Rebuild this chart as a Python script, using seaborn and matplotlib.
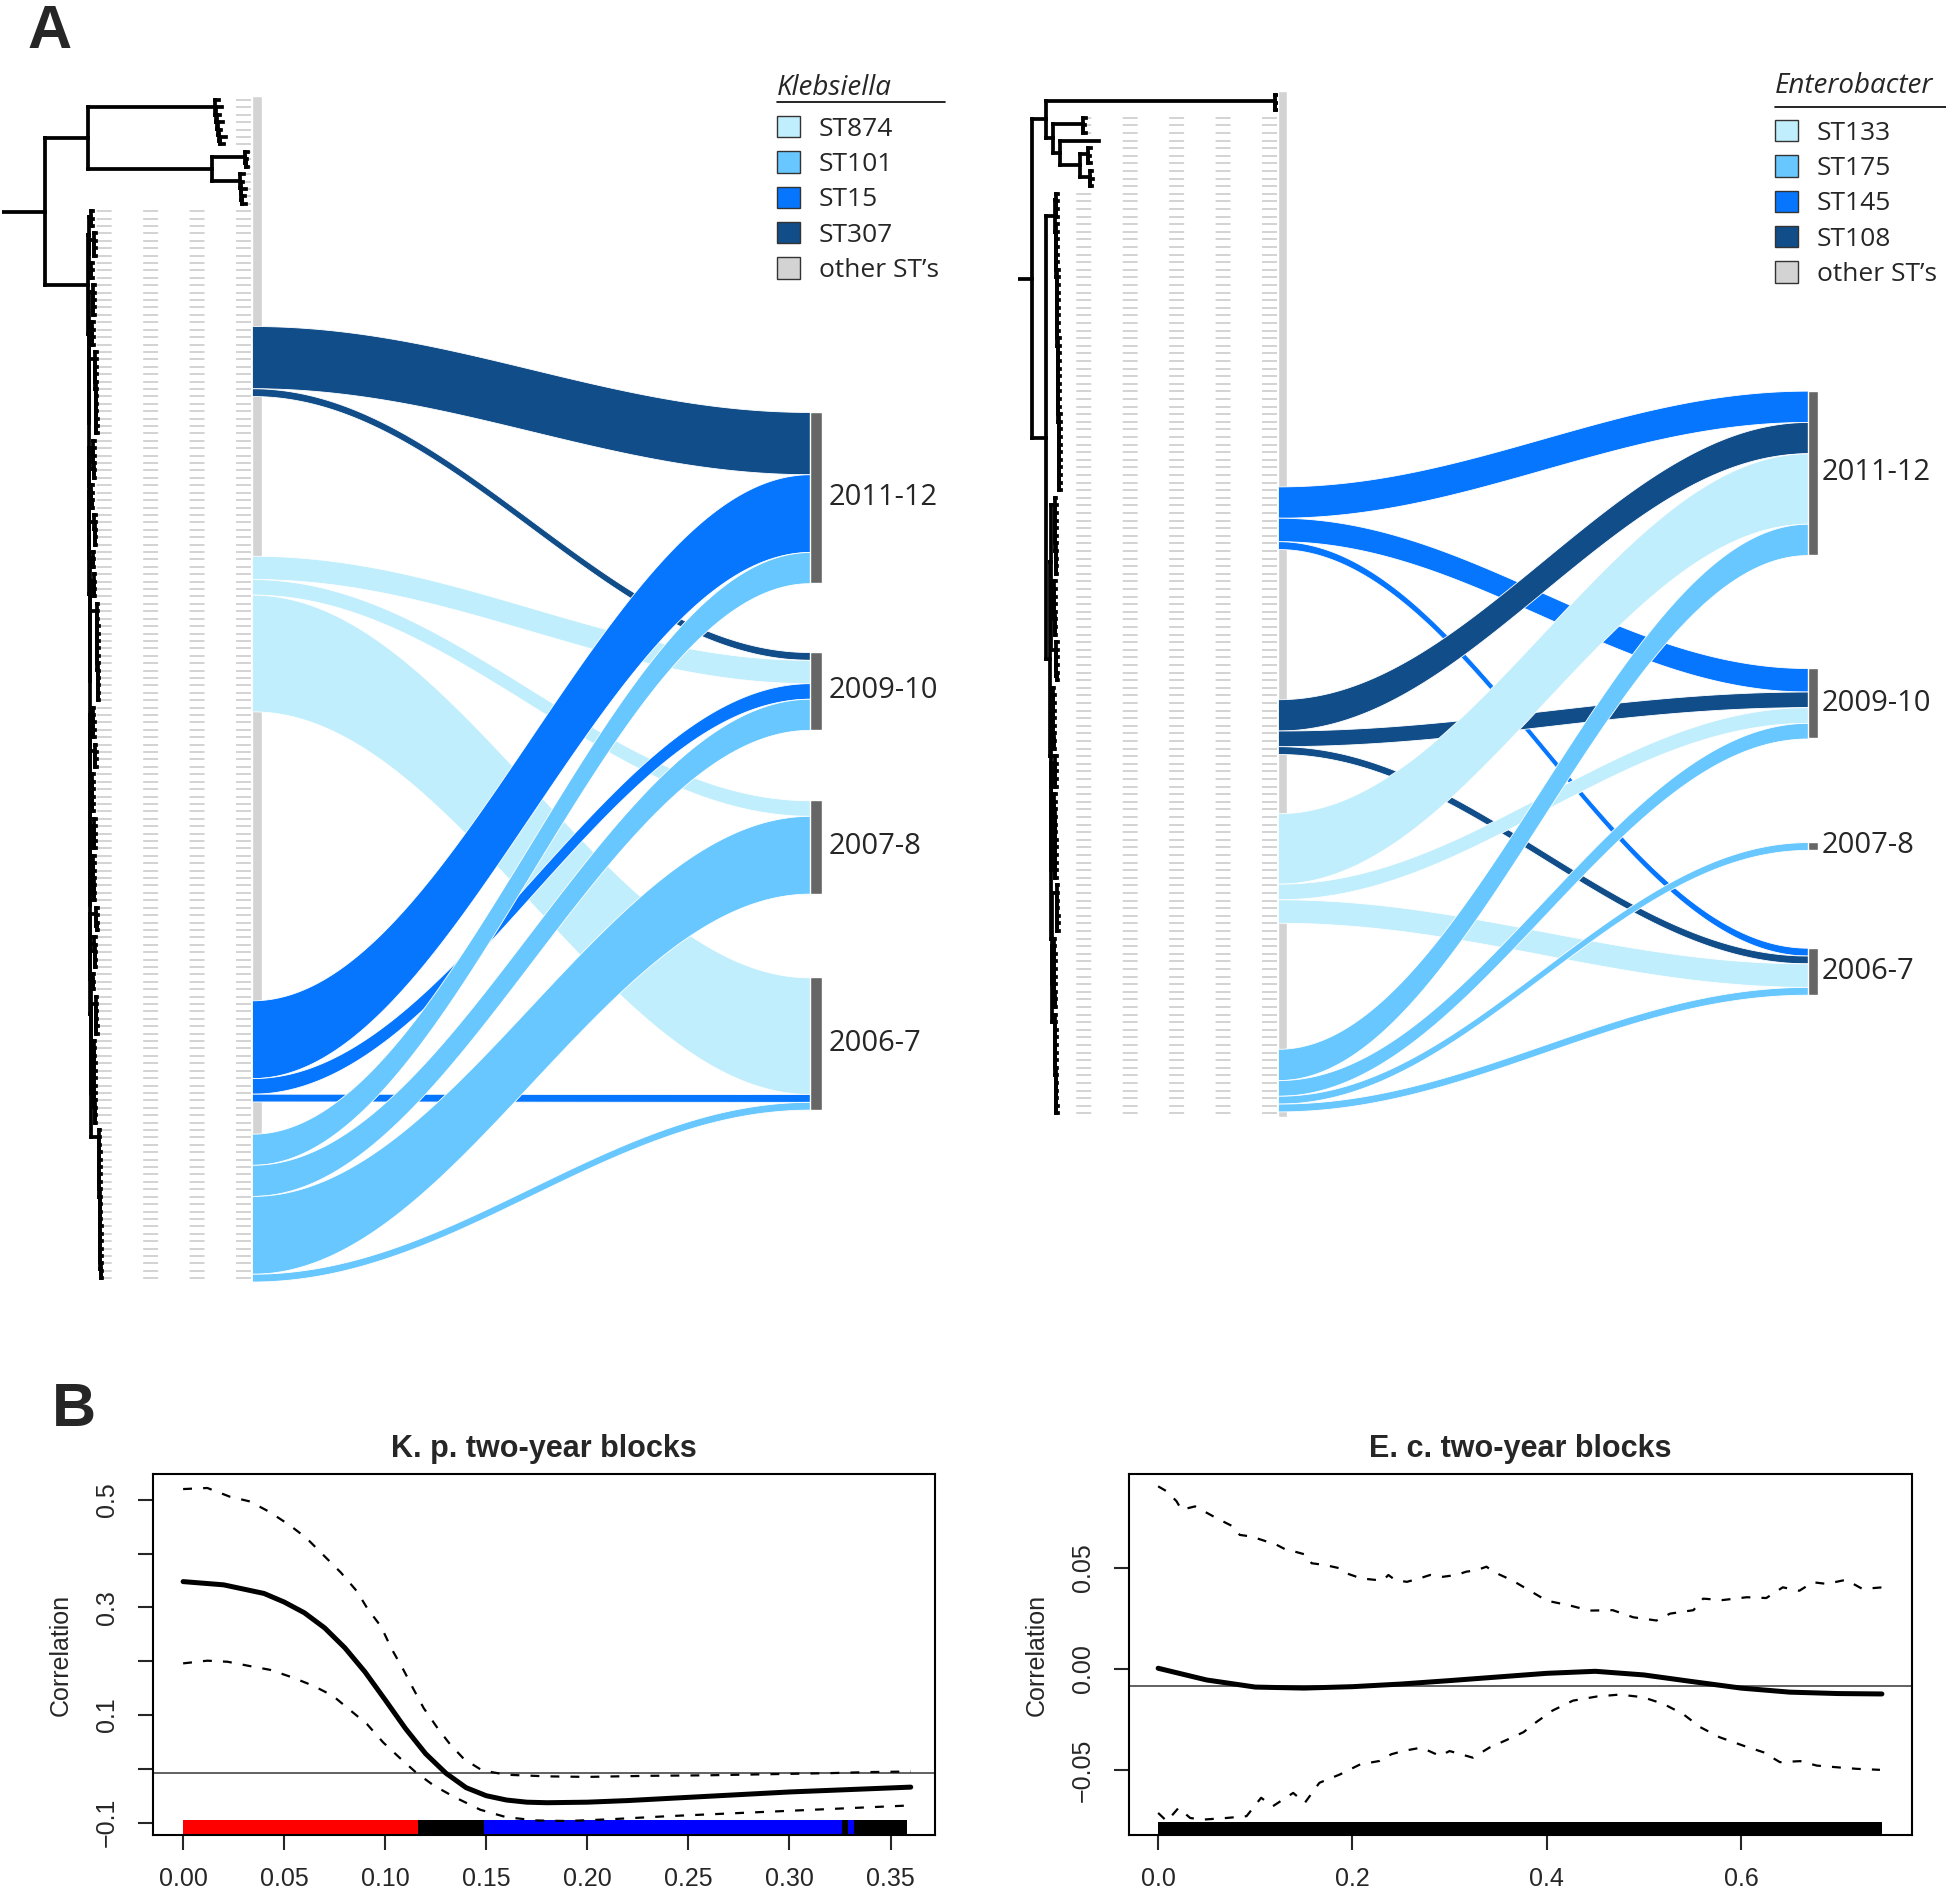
import numpy as np
import matplotlib
matplotlib.use('Agg')
import matplotlib.pyplot as plt
import seaborn as sns
from matplotlib.collections import LineCollection
from matplotlib.patches import Patch
from matplotlib.lines import Line2D

sns.set_style('white')
plt.rcParams['font.family'] = ['Liberation Sans', 'DejaVu Sans']

W, H = 1946, 1898

# =========================================
# Panel A data
# =========================================
YEARS = ['2011-12', '2009-10', '2007-8', '2006-7']
ST_COLORS = ['#c1eefc', '#68c7fe', '#0676fe', '#114d88']   # light -> dark
OTHER = '#d3d3d3'

KP_STS = ['ST874', 'ST101', 'ST15', 'ST307']          # legend order
KP_TREE_ORDER = ['ST307', 'ST874', 'ST15', 'ST101']   # order along the tree
KP_FIRST_LEAF = [31, 62, 122, 140]
KP_COUNTS = [[8, 1, 0, 0],     # isolates per period, YEARS order
             [0, 3, 2, 15],
             [10, 2, 0, 1],
             [4, 4, 10, 1]]

EC_STS = ['ST133', 'ST175', 'ST145', 'ST108']
EC_TREE_ORDER = ['ST145', 'ST108', 'ST133', 'ST175']
EC_FIRST_LEAF = [52, 80, 95, 126]
EC_COUNTS = [[4, 3, 0, 1],
             [4, 2, 0, 1],
             [9, 2, 0, 3],
             [4, 2, 1, 1]]

# tree pieces (branch lengths)
KP_CA_TIPS = [4, 6, 3, 5, 2, 6, 4]
KP_CB1_TIPS = [3, 1, 2]
KP_CB2_TIPS = [4, 2, 5, 3, 4]
KP_BIG_GROUPS = [3, 4, 3, 5, 4, 12, 6, 4, 5, 3, 4, 14, 5, 4, 6, 5, 7, 4, 5, 3, 6, 12, 21]
KP_BIG_STEMS = [2, 5, 2, 4, 3, 6, 4, 2, 5, 3, 4, 7, 3, 5, 2, 4, 3, 6, 4, 2, 5, 3, 8]

EC_T1A_TIPS = [2, 3, 2]
EC_T1B1_TIPS = [3, 2, 3]
EC_FIRST_GROUPS = [4, 36]
EC_BIG_GROUPS = [11, 8, 6, 9, 5, 12, 7, 10, 14]
EC_BIG_STEMS = [4, 3, 5, 2, 4, 3, 5, 2, 3]

# =========================================
# Panel B data
# =========================================
KP_X = [0.00, 0.02, 0.04, 0.05, 0.06, 0.07, 0.08, 0.09, 0.10, 0.11, 0.12, 0.13, 0.14,
        0.15, 0.16, 0.17, 0.18, 0.20, 0.22, 0.24, 0.26, 0.28, 0.30, 0.32, 0.34, 0.36]
KP_R = [0.348, 0.342, 0.326, 0.310, 0.290, 0.262, 0.225, 0.180, 0.128, 0.075, 0.028, -0.008,
        -0.035, -0.050, -0.058, -0.062, -0.063, -0.062, -0.059, -0.055, -0.051, -0.047,
        -0.043, -0.040, -0.037, -0.034]
KP_HI_X = [0, 0.012, 0.023, 0.033, 0.043, 0.053, 0.061, 0.070, 0.078, 0.086, 0.091, 0.098,
           0.103, 0.109, 0.114, 0.119, 0.126, 0.132, 0.139, 0.148, 0.16, 0.18, 0.20, 0.23,
           0.26, 0.29, 0.32, 0.34, 0.36]
KP_HI = [0.520, 0.522, 0.506, 0.497, 0.477, 0.452, 0.429, 0.395, 0.365, 0.330, 0.299, 0.264,
         0.224, 0.184, 0.148, 0.113, 0.075, 0.046, 0.018, -0.003, -0.011, -0.014, -0.015,
         -0.013, -0.012, -0.010, -0.008, -0.006, -0.005]
KP_LO_X = [0, 0.012, 0.022, 0.033, 0.043, 0.054, 0.064, 0.074, 0.082, 0.091, 0.099, 0.107,
           0.115, 0.124, 0.134, 0.147, 0.16, 0.175, 0.19, 0.21, 0.24, 0.27, 0.30, 0.33, 0.36]
KP_LO = [0.196, 0.201, 0.199, 0.191, 0.184, 0.170, 0.155, 0.136, 0.111, 0.083, 0.049, 0.021,
         -0.006, -0.031, -0.052, -0.076, -0.090, -0.096, -0.097, -0.094, -0.088, -0.083,
         -0.078, -0.073, -0.068]
KP_NULL = -0.007
KP_SIG_BREAKS = [0, 0.116, 0.149, 0.326, 0.329, 0.332, 0.358]
KP_SIG_COLORS = ['#ff0000', '#000000', '#0000ff', '#000000', '#0000ff', '#000000']

EC_X = [0, 0.05, 0.1, 0.15, 0.2, 0.25, 0.3, 0.35, 0.4, 0.45, 0.5, 0.55, 0.6, 0.65, 0.7, 0.745]
EC_R = [0.0003, -0.0055, -0.0090, -0.0095, -0.0088, -0.0075, -0.0058, -0.0040, -0.0022,
        -0.0012, -0.0030, -0.0063, -0.0095, -0.0115, -0.0122, -0.0124]
EC_HI_X = [0, 0.009, 0.019, 0.024, 0.038, 0.057, 0.067, 0.077, 0.084, 0.096, 0.112, 0.122,
           0.132, 0.141, 0.153, 0.158, 0.172, 0.187, 0.194, 0.209, 0.225, 0.232, 0.237, 0.244,
           0.256, 0.269, 0.280, 0.293, 0.307, 0.317, 0.328, 0.338, 0.345, 0.365, 0.40, 0.424,
           0.444, 0.468, 0.489, 0.513, 0.527, 0.551, 0.561, 0.581, 0.606, 0.626, 0.643, 0.660,
           0.674, 0.688, 0.708, 0.725, 0.746]
EC_HI = [0.0902, 0.0877, 0.0828, 0.0786, 0.0803, 0.0753, 0.0728, 0.0704, 0.0662, 0.0654,
         0.0629, 0.0613, 0.0588, 0.0579, 0.0563, 0.0522, 0.0513, 0.0497, 0.0472, 0.0447,
         0.0439, 0.0439, 0.0464, 0.0439, 0.0430, 0.0447, 0.0464, 0.0455, 0.0464, 0.0480,
         0.0488, 0.0505, 0.0480, 0.0436, 0.0337, 0.0313, 0.0288, 0.0290, 0.0255, 0.0239,
         0.0273, 0.0290, 0.0347, 0.0340, 0.0354, 0.0350, 0.0403, 0.0386, 0.0428, 0.0420,
         0.0440, 0.0395, 0.0403]
EC_LO_X = [0, 0.009, 0.021, 0.033, 0.046, 0.070, 0.091, 0.106, 0.118, 0.139, 0.151, 0.166,
           0.187, 0.208, 0.228, 0.240, 0.252, 0.271, 0.290, 0.300, 0.324, 0.341, 0.357, 0.376,
           0.389, 0.406, 0.427, 0.451, 0.475, 0.499, 0.520, 0.540, 0.558, 0.578, 0.602, 0.623,
           0.640, 0.661, 0.678, 0.698, 0.719, 0.743]
EC_LO = [-0.0712, -0.0753, -0.0687, -0.0737, -0.0745, -0.0737, -0.0728, -0.0637, -0.0679,
         -0.0613, -0.0662, -0.0563, -0.0522, -0.0472, -0.0455, -0.0422, -0.0406, -0.0389,
         -0.0430, -0.0406, -0.0439, -0.0389, -0.0355, -0.0313, -0.0264, -0.0206, -0.0157,
         -0.0137, -0.0127, -0.0140, -0.0173, -0.0222, -0.0288, -0.0338, -0.0379, -0.0412,
         -0.0461, -0.0456, -0.0478, -0.0486, -0.0494, -0.0499]
EC_NULL = -0.0086
EC_SIG_BREAKS = [0, 0.745]
EC_SIG_COLORS = ['#000000']


# =========================================
# helpers
# =========================================
def tip(l):
    return (l, [])


def clade(l, *kids):
    return (l, list(kids))


def ladder(l, kids, step):
    if len(kids) <= 2:
        return clade(l, *kids)
    return clade(l, kids[0], ladder(step, kids[1:], step))


def comb(l, tips, step):
    return ladder(l, [tip(t) for t in tips], step)


def layout(tree):
    segs, tips = [], []
    count = [0]

    def walk(node, x_parent):
        length, kids = node
        x = x_parent + length
        if kids:
            ys = [walk(k, x) for k in kids]
            y = (ys[0] + ys[-1]) / 2
            segs.append([(x, ys[0]), (x, ys[-1])])
        else:
            y = count[0]
            count[0] += 1
            tips.append((x, y))
        segs.append([(x_parent, y), (x, y)])
        return y

    walk(tree, 0.0)
    return segs, tips


def box(x0, y0, x1, y1):
    return [x0 / W, 1 - y1 / H, (x1 - x0) / W, (y1 - y0) / H]


kp_groups = [comb(s, [1.5] * n, 0.1) for n, s in zip(KP_BIG_GROUPS, KP_BIG_STEMS)]
KP_TREE = clade(43,
                clade(43,
                      comb(127, KP_CA_TIPS, 1.0),
                      clade(124, comb(33, KP_CB1_TIPS, 0.5), comb(28, KP_CB2_TIPS, 0.5))),
                clade(43, ladder(1, kp_groups[:3], 0.1), ladder(1, kp_groups[3:], 0.1)))

ec_groups = [comb(s, [1.5] * n, 0.1) for n, s in zip(EC_BIG_GROUPS, EC_BIG_STEMS)]
EC_TREE = clade(14,
                clade(14,
                      comb(229, EC_T1A_TIPS, 0.5),
                      clade(7, comb(30, EC_T1B1_TIPS, 0.5),
                            clade(7, tip(39),
                                  clade(20, comb(8, [3, 2, 3], 0.5), comb(10, [2, 3, 2], 0.5))))),
                clade(14,
                      clade(9, *[comb(1, [2] * n, 0.1) for n in EC_FIRST_GROUPS]),
                      clade(4, ladder(1, ec_groups[:3], 0.2), ladder(1, ec_groups[3:], 0.2))))

fig = plt.figure(figsize=(W / 100, H / 100), dpi=100)


def tanglegram(tree, tree_px, sank_px, y_px, leaf0_px, leaf_sp, bar_w, ybar_w,
               tree_order, legend_order, first_leaf, counts, unit, year_tops, label_x):
    segs, tips = layout(tree)
    n_leaves = len(tips)
    ylim = ((y_px[1] - leaf0_px) / leaf_sp, (y_px[0] - leaf0_px) / leaf_sp)

    # tree
    axt = fig.add_axes(box(tree_px[0], y_px[0], tree_px[1], y_px[1]))
    bar_x = tree_px[1] - tree_px[0]
    guides = [[(bar_x - 1, y), (x, y)] for x, y in tips]
    axt.add_collection(LineCollection(guides, colors='#c8c8c8', linewidths=1.1,
                                      linestyles=[(0, (9.8, 20.6))]))
    axt.add_collection(LineCollection(segs, colors='black', linewidths=2.7,
                                      capstyle='projecting'))
    axt.set_xlim(0, bar_x)
    axt.set_ylim(*ylim)
    axt.axis('off')

    # sankey
    axs = fig.add_axes(box(sank_px[0], y_px[0], sank_px[1], y_px[1]))
    axs.barh(y=(n_leaves - 1) / 2, width=bar_w, left=0, height=n_leaves, color=OTHER)
    counts = np.array(counts, dtype=float)
    year_tot = counts.sum(axis=0)
    dest_off = np.zeros(len(YEARS))
    t = np.linspace(0, 1, 120)
    s = (1 - np.cos(np.pi * t)) / 2
    for i, st in enumerate(tree_order):
        col = ST_COLORS[legend_order.index(st)]
        src = first_leaf[i] - 0.5
        for j in range(len(YEARS)):
            c = counts[i, j]
            if c == 0:
                continue
            a0, b0 = src, src + c * unit
            a1 = year_tops[j] + dest_off[j]
            b1 = a1 + c * unit
            axs.fill_between(t, a0 + (a1 - a0) * s, b0 + (b1 - b0) * s,
                             facecolor=col, edgecolor='white', linewidth=0.6)
            src = b0
            dest_off[j] += c * unit
    for j, yr in enumerate(YEARS):
        h = year_tot[j] * unit
        axs.barh(y=year_tops[j] + h / 2, width=ybar_w, left=1, height=h, color='#666666')
        axs.text(label_x, year_tops[j] + h / 2, yr, fontsize=21, family='Open Sans',
                 va='center', ha='left', clip_on=False)
    axs.set_xlim(0, 1 + ybar_w)
    axs.set_ylim(*ylim)
    axs.axis('off')


tanglegram(KP_TREE, (2, 252), (252, 822), (60, 1300), 100, 7.41, 0.018, 0.0215,
           KP_TREE_ORDER, KP_STS, KP_FIRST_LEAF, KP_COUNTS, 1.05,
           [42.1, 74.5, 94.5, 118.4], 1.034)
tanglegram(EC_TREE, (1018, 1278), (1278, 1818), (60, 1130), 95, 7.6, 0.017, 0.0189,
           EC_TREE_ORDER, EC_STS, EC_FIRST_LEAF, EC_COUNTS, 1.03,
           [38.9, 75.4, 98.3, 112.2], 1.026)


def st_legend(sts, title, x_px, top_px, title_base_px, line_y_px, line_end_px):
    handles = [Patch(facecolor=c, edgecolor='#333333', linewidth=1) for c in ST_COLORS]
    handles.append(Patch(facecolor=OTHER, edgecolor='#333333', linewidth=1))
    fig.legend(handles, sts + ['other ST\u2019s'], loc='upper left',
               bbox_to_anchor=(x_px / W, 1 - top_px / H), frameon=False,
               prop={'family': 'Open Sans', 'size': 19}, handlelength=0.87,
               handleheight=0.87, handletextpad=0.72, labelspacing=0.36,
               borderpad=0, borderaxespad=0)
    fig.text(x_px / W, 1 - title_base_px / H, title, style='italic', family='Open Sans',
             fontsize=20, va='baseline')
    fig.add_artist(Line2D([x_px / W, line_end_px / W], [1 - line_y_px / H] * 2,
                          color='black', lw=1.2))


st_legend(KP_STS, 'Klebsiella', 777, 116, 95, 102, 945)
st_legend(EC_STS, 'Enterobacter', 1775, 120, 93, 107, 1946)


# =========================================
# Panel B: correlograms
# =========================================
def correlogram(px, title, x, r, hx, hi, lx, lo, null, breaks, colors, rug_top,
                xlim, ylim, xticks, xlabels, yticks, ylabels):
    ax = fig.add_axes(box(*px))
    ax.axhline(null, color='#555555', lw=1.3, zorder=1)
    sns.lineplot(x=hx, y=hi, ax=ax, color='black', lw=1.6, linestyle=(0, (4, 5)))
    sns.lineplot(x=lx, y=lo, ax=ax, color='black', lw=1.6, linestyle=(0, (4, 5)))
    sns.lineplot(x=x, y=r, ax=ax, color='black', lw=3.6)
    spans = [(b0, b1 - b0) for b0, b1 in zip(breaks[:-1], breaks[1:])]
    ax.broken_barh(spans, (ylim[0] - 0.05, rug_top - ylim[0] + 0.05), facecolors=colors,
                   edgecolor='none')
    ax.set_xlim(*xlim)
    ax.set_ylim(*ylim)
    ax.set_xticks(xticks)
    ax.set_xticklabels(xlabels)
    ax.set_yticks(yticks)
    ax.set_yticklabels(ylabels, rotation=90, va='center')
    ax.tick_params(direction='out', length=10.8, width=1.5, labelsize=18,
                   left=True, bottom=True)
    ax.tick_params(axis='x', pad=12)
    ax.tick_params(axis='y', pad=14)
    for sp in ax.spines.values():
        sp.set_linewidth(1.5)
        sp.set_color('black')
    ax.set_ylabel('Correlation', fontsize=18, labelpad=16)
    ax.set_xlabel('')
    ax.set_title(title, fontsize=22, fontweight='bold', pad=12)
    return ax


correlogram((153, 1474, 935, 1835), 'K. p. two-year blocks', KP_X, KP_R, KP_HI_X, KP_HI,
            KP_LO_X, KP_LO, KP_NULL, KP_SIG_BREAKS, KP_SIG_COLORS, -0.096,
            (-0.0149, 0.372), (-0.123, 0.548),
            [0, 0.05, 0.10, 0.15, 0.20, 0.25, 0.30, 0.35],
            ['0.00', '0.05', '0.10', '0.15', '0.20', '0.25', '0.30', '0.35'],
            [-0.1, 0.0, 0.1, 0.2, 0.3, 0.4, 0.5],
            ['\u22120.1', '', '0.1', '', '0.3', '', '0.5'])
correlogram((1129, 1474, 1912, 1835), 'E. c. two-year blocks', EC_X, EC_R, EC_HI_X, EC_HI,
            EC_LO_X, EC_LO, EC_NULL, EC_SIG_BREAKS, EC_SIG_COLORS, -0.0758,
            (-0.030, 0.776), (-0.0821, 0.0963),
            [0, 0.2, 0.4, 0.6], ['0.0', '0.2', '0.4', '0.6'],
            [-0.05, 0.0, 0.05], ['\u22120.05', '0.00', '0.05'])

fig.text(27 / W, 1 - 4 / H, 'A', fontsize=44, fontweight='bold', va='top', ha='left')
fig.text(52 / W, 1 - 1382 / H, 'B', fontsize=44, fontweight='bold', va='top', ha='left')

fig.savefig('out.png', dpi=100)
